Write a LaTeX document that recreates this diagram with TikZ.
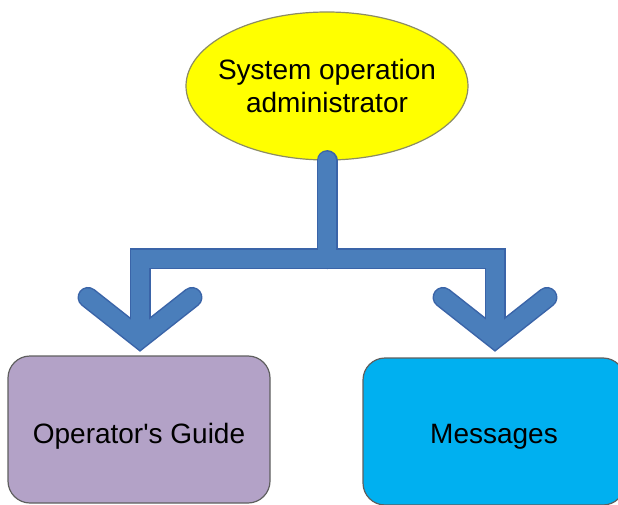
\documentclass[tikz,border=0pt]{standalone}
\usepackage{fontspec}
\setmainfont{Liberation Sans}
\usetikzlibrary{calc,shapes.geometric}
\definecolor{arrowfill}{RGB}{74,126,187}
\definecolor{arrowedge}{RGB}{58,100,168}
\definecolor{ellipseedge}{RGB}{140,140,100}
\definecolor{boxedge}{RGB}{95,95,95}
\definecolor{guidefill}{RGB}{179,162,199}
\definecolor{msgfill}{RGB}{0,176,240}
\definecolor{adminfill}{RGB}{255,255,0}
\begin{document}
\begin{tikzpicture}[x=1pt,y=-1pt,
  lbl/.style={font=\fontsize{28}{33}\selectfont, text=black},
  adminshape/.style={ellipse, draw=ellipseedge, fill=adminfill, line width=1.2pt,
    minimum width=282pt, minimum height=148pt, inner xsep=-10pt, inner ysep=0pt, align=center, lbl},
  boxshape/.style={rectangle, rounded corners=22pt, draw=boxedge, line width=1.2pt,
    minimum width=262pt, minimum height=147pt, text depth=0pt, lbl},
  connedge/.style={draw=arrowedge, line width=21pt},
  connfill/.style={draw=arrowfill, line width=18pt},
]
\useasboundingbox (0,0) rectangle (618,505);
\node[adminshape] (admin) at (327,86) {System operation\\administrator};
\node[boxshape, fill=guidefill, text height=27pt] (guide) at (139,429.5) {Operator\textquotesingle s Guide};
\node[boxshape, fill=msgfill, text height=23pt] (msg) at (494,431.5) {Messages};
\coordinate (junction) at ($(admin.south)+(0,98)$);
\coordinate (tipL) at ($(guide.north)+(1,-17)$);
\coordinate (tipR) at ($(msg.north)+(1,-19)$);
\foreach \s in {connedge,connfill}{
  \draw[\s, line cap=round] (admin.south) -- (junction);
  \draw[\s, line join=miter] (tipL) -- (tipL |- junction) -- (tipR |- junction) -- (tipR);
  \draw[\s, line cap=round, line join=miter] ($(tipL)+(-52,-41)$) -- (tipL) -- ($(tipL)+(52,-41)$);
  \draw[\s, line cap=round, line join=miter] ($(tipR)+(-52,-41)$) -- (tipR) -- ($(tipR)+(52,-41)$);
}
\end{tikzpicture}
\end{document}
